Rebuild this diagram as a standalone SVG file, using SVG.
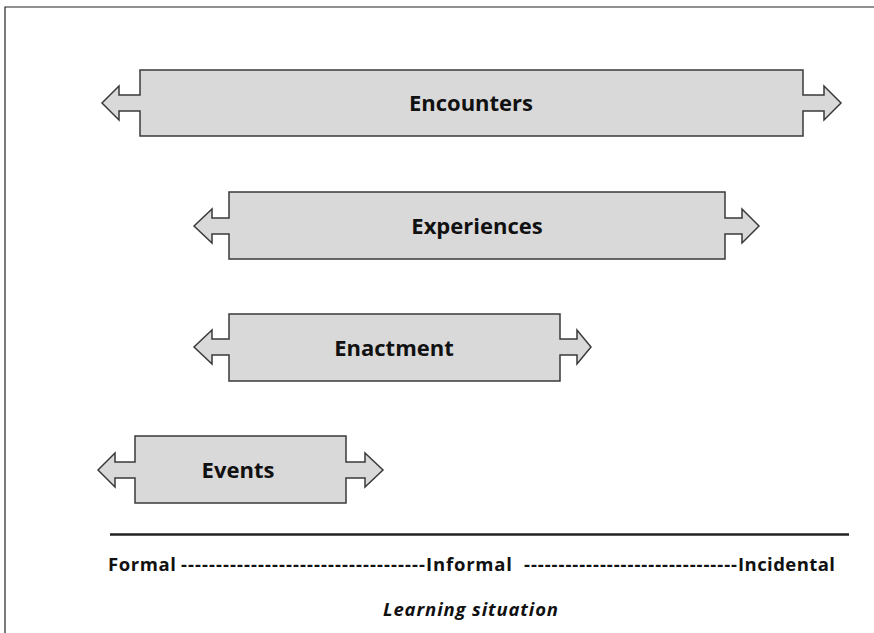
<svg xmlns="http://www.w3.org/2000/svg" width="874" height="633" viewBox="0 0 874 633">
<style>
.shape{fill:#d9d9d9;stroke:#3a3a3a;stroke-width:1.5;stroke-linejoin:miter}
.lbl{font-family:"Open Sans","Liberation Sans",sans-serif;font-weight:bold;font-size:22px;fill:#111;text-anchor:middle}
.axis{font-family:"Open Sans","Liberation Sans",sans-serif;font-weight:bold;font-size:18.5px;fill:#111}
.cap{font-family:"Open Sans","Liberation Sans",sans-serif;font-weight:bold;font-style:italic;font-size:18.5px;fill:#111}
</style>
<rect width="874" height="633" fill="#ffffff"/>
<g id="frame" stroke="#222" stroke-width="1.2" fill="none">
<path d="M5,633 V7 H874"/>
</g>
<g id="encounters">
<path class="shape" d="M140,70 H803 V95 H824 V86 L841,103 L824,120 V111 H803 V136 H140 V111 H119 V120 L102,103 L119,86 V95 H140 Z"/>
<text class="lbl" x="471" y="111">Encounters</text>
</g>
<g id="experiences">
<path class="shape" d="M229,192 H725 V218 H742 V209 L759,226 L742,243 V234 H725 V259 H229 V234 H212 V243 L194,226 L212,209 V218 H229 Z"/>
<text class="lbl" x="477" y="233.5">Experiences</text>
</g>
<g id="enactment">
<path class="shape" d="M229,314 H560 V339 H577 V330 L591,347 L577,364 V355 H560 V381 H229 V355 H212 V364 L194,347 L212,330 V339 H229 Z"/>
<text class="lbl" x="394" y="355.5">Enactment</text>
</g>
<g id="events">
<path class="shape" d="M135,436 H346 V462 H365 V453 L383,470 L365,487 V478 H346 V503 H135 V478 H115 V487 L98,470 L115,453 V462 H135 Z"/>
<text class="lbl" x="238" y="478">Events</text>
</g>
<g id="connectors">
<line x1="110" y1="534.5" x2="849" y2="534.5" stroke="#222" stroke-width="2.5"/>
</g>
<g id="axis-labels">
<text class="axis" x="108" y="571" textLength="68">Formal</text>
<text class="axis" x="181" y="571" textLength="244" lengthAdjust="spacing">-----------------------------------</text>
<text class="axis" x="426" y="571" textLength="86">Informal</text>
<text class="axis" x="524" y="571" textLength="213" lengthAdjust="spacing">-------------------------------</text>
<text class="axis" x="738" y="571" textLength="97">Incidental</text>
<text class="cap" x="383" y="616" textLength="175">Learning situation</text>
</g>
</svg>
